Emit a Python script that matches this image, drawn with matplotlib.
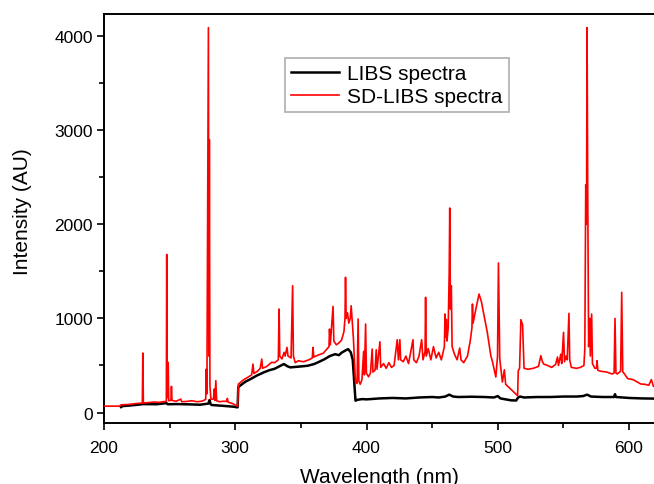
import matplotlib
matplotlib.use("Agg")
import matplotlib.pyplot as plt
from matplotlib.ticker import MultipleLocator

plt.rcParams['font.family'] = ['Liberation Sans', 'DejaVu Sans']

# LIBS spectrum (black)
libs_wl = [213, 214, 220, 225, 230, 240, 247.6, 248.5, 255, 265, 273, 279.5, 280.4, 281.2, 282, 290,
           298.7, 301.8, 302.3, 305, 308, 311.7, 316, 321.7, 326, 330, 334.4, 337, 340, 342, 346,
           350, 355, 360, 364, 368, 372, 376, 379, 381, 384, 386, 388, 389.5, 391.6, 393, 396.7,
           400, 410, 420, 430, 440, 450, 455, 460, 463, 466, 470, 480, 490, 497, 500, 502, 506,
           510, 514, 515.5, 517, 520, 530, 540, 550, 560, 565, 568, 571, 580, 588.5, 589.3, 590,
           600, 610, 620]
libs_int = [58, 68, 75, 82, 90, 88, 100, 88, 90, 87, 83, 95, 133, 90, 80, 72,
            62, 55, 270, 300, 330, 356, 390, 427, 450, 465, 497, 515, 490, 480, 485,
            490, 497, 515, 540, 567, 600, 620, 610, 636, 660, 674, 640, 560, 126, 135, 143,
            140, 150, 155, 150, 160, 165, 160, 170, 190, 170, 165, 168, 165, 160, 175, 150, 140,
            130, 128, 160, 170, 160, 165, 165, 170, 170, 175, 190, 170, 165, 165, 195, 165,
            155, 150, 148]

# SD-LIBS spectrum (red)
sd_wl = [200, 212, 213, 218, 222, 226, 229.2, 229.6, 230.0, 234, 238, 242, 245, 247.5, 247.8, 248.2,
         248.9, 249.3, 251.0, 251.4, 251.8, 255, 258.5, 259.2, 263, 267, 271, 275, 277.5, 277.9,
         278.4, 279.55, 279.95, 280.27, 280.7, 281.5, 283.4, 284.0, 284.5, 285.2, 285.8, 288, 291,
         293.5, 294, 294.5, 298, 301.8, 302.3, 304, 306, 309, 312.5, 313.5, 314.2, 317, 319, 320.2,
         320.8, 324, 327.6, 330, 332.8, 333.4, 333.9, 335.6, 337.2, 338, 339.4, 340.2, 342.5, 343.7,
         344.3, 345.7, 348, 352, 356, 358.7, 359.2, 359.8, 363, 367, 369.5, 371.4, 371.8, 372.4,
         374.5, 375.1, 377, 379, 381, 382.8, 383.6, 384.0, 384.5, 385.5, 386.5, 387.6, 388.3, 389.2,
         390, 391.6, 392.8, 393.6, 394.2, 395.2, 396.5, 397.8, 398.4, 399.3, 399.9, 401.5, 403,
         404.3, 404.9, 406.5, 407.4, 408, 410.2, 410.8, 413, 415, 417, 419, 421, 423.4, 424.3,
         425.4, 426, 428, 430, 432, 435.4, 436, 438, 440, 442, 443, 444.6, 445.0, 445.5, 447, 449,
         451, 453, 455, 457, 459.3, 459.8, 460.3, 460.8, 461.3, 462.2, 463.0, 463.4, 463.9, 464.6,
         465.2, 467, 469, 471, 472, 474, 476.9, 479, 480.3, 480.7, 481.2, 483, 485.7, 487.5, 490,
         492, 494.7, 496, 498.5, 499.8, 500.5, 501.5, 503.5, 505, 506, 509, 512, 513.7, 515.1,
         515.6, 516.6, 517.6, 518.9, 520, 523, 527, 531, 532.8, 534, 535, 538, 541, 544, 545.5,
         546.2, 548, 548.7, 550.1, 550.8, 552, 552.9, 554.2, 554.8, 556, 560, 563, 565.6, 566.3,
         567.0, 567.6, 568.0, 568.5, 569.2, 570.0, 570.5, 571.5, 572.1, 574, 575.2, 575.6, 576.2,
         578, 583, 587, 588.6, 589.3, 590.0, 591, 593.6, 594.4, 595.2, 596, 599, 603, 609, 612,
         615, 617, 618.5, 620]
sd_int = [68, 68, 82, 85, 92, 98, 100, 632, 102, 105, 112, 108, 115, 118, 1680, 160,
          533, 125, 130, 278, 128, 120, 143, 115, 118, 125, 115, 122, 140, 462,
          200, 4090, 600, 2900, 280, 140, 143, 249, 130, 338, 125, 115, 120,
          118, 150, 110, 95, 66, 300, 320, 345, 370, 400, 515, 415, 440, 470, 568,
          470, 490, 533, 530, 560, 1100, 600, 570, 640, 600, 692, 600, 580, 1348,
          600, 530, 550, 540, 560, 580, 692, 590, 610, 630, 670, 700, 887, 720,
          1128, 760, 720, 740, 770, 860, 1000, 1437, 1000, 1060, 950, 1000, 1135, 950,
          790, 320, 310, 994, 330, 300, 350, 650, 400, 940, 420, 380, 420,
          675, 430, 450, 667, 460, 752, 480, 520, 470, 530, 480, 500, 774, 560,
          774, 560, 540, 600, 520, 774, 560, 530, 600, 774, 560, 650, 1224, 600, 680, 560,
          700, 580, 640, 560, 700, 1047, 800, 990, 760, 900, 1500, 2173, 1100, 1348,
          700, 620, 560, 685, 560, 530, 600, 760, 900, 1153, 950, 1080, 1259, 1180, 1000,
          852, 604, 537, 377, 600, 1589, 570, 324, 455, 300, 260, 220, 196, 179,
          444, 470, 987, 930, 470, 460, 470, 490, 604, 540, 515, 500, 480, 510, 590,
          500, 620, 520, 852, 540, 600, 560, 1054, 560, 480, 470, 480, 500, 675,
          2420, 2000, 4090, 2400, 700, 1000, 600, 1047, 520, 470, 470, 551, 450,
          440, 430, 410, 420, 1000, 420, 410, 440, 1277, 430, 420, 360, 350, 303, 300,
          290, 350, 280, 270]

fig = plt.figure(figsize=(6.54, 4.85), dpi=100)
ax = fig.add_axes([0.159, 0.126, 0.841, 0.843])

ax.plot(libs_wl, libs_int, color='black', lw=1.8, label='LIBS spectra', zorder=2)
ax.plot(sd_wl, sd_int, color='#ff0000', lw=1.2, label='SD-LIBS spectra', zorder=3)

ax.set_xlim(200, 619)
ax.set_ylim(-110, 4235)
ax.xaxis.set_major_locator(MultipleLocator(100))
ax.xaxis.set_minor_locator(MultipleLocator(50))
ax.yaxis.set_major_locator(MultipleLocator(1000))
ax.yaxis.set_minor_locator(MultipleLocator(500))
ax.tick_params(which='major', direction='out', length=5, width=1.2, labelsize=12.5)
ax.tick_params(which='minor', direction='out', length=3.5, width=1.2)
ax.tick_params(axis='x', which='major', pad=7)
ax.tick_params(axis='y', which='major', pad=3)
ax.spines['right'].set_visible(False)
for s in ['left', 'bottom', 'top']:
    ax.spines[s].set_linewidth(1.4)

ax.set_xlabel('Wavelength (nm)', fontsize=15, labelpad=9)
ax.set_ylabel('Intensity (AU)', fontsize=15)
ax.yaxis.set_label_coords(-0.131, 0.52)

leg = ax.legend(loc='upper left', bbox_to_anchor=(0.329, 0.893), fontsize=15, frameon=True,
                fancybox=False, edgecolor='#999999', handlelength=2.3, borderpad=0.3,
                labelspacing=0.2, handletextpad=0.4, borderaxespad=0)
leg.get_frame().set_linewidth(1.2)

fig.savefig('out.png', dpi=100)
